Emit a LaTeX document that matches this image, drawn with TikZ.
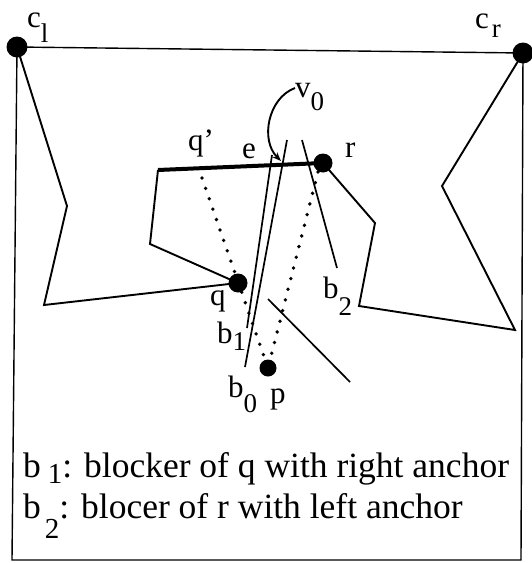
\documentclass[tikz,border=0pt]{standalone}
\usepackage{fontspec}
\setmainfont{Liberation Serif}
\usetikzlibrary{arrows.meta}

\def\subsize{27}
\newcommand{\lsub}[2][12pt]{\raisebox{-#1}{\fontsize{\subsize}{\subsize}\selectfont #2}}

\begin{document}
\begin{tikzpicture}[x=1pt, y=-1pt,
    vtx/.style={circle, fill=black, inner sep=0pt, minimum size=19pt},
    lab/.style={anchor=base west, inner sep=0pt, font=\fontsize{31}{31}\selectfont},
    legend/.style={anchor=base west, inner sep=0pt, font=\fontsize{35.5}{36}\selectfont\def\subsize{29}},
    frame/.style={line width=1.4pt},
    edge/.style={line width=1.9pt, line join=miter},
    sight/.style={line width=3.8pt, line cap=round, dash pattern=on 0pt off 11pt},
    arrow/.style={-{Stealth[length=9pt, width=7pt]}, line width=1.9pt}
  ]
  \useasboundingbox (0,0) rectangle (531,563);

  % corners and vertices
  \node[vtx, minimum size=21pt] (cl) at (17,47) {};
  \node[vtx, minimum size=21pt] (cr) at (523,53) {};
  \node[vtx] (q) at (238,283) {};
  \node[vtx] (r) at (323,163) {};
  \node[vtx, minimum size=17pt] (p) at (268,368) {};

  \coordinate (bl) at (12,560);
  \coordinate (br) at (521,560);
  \coordinate (lA) at (67,206);
  \coordinate (lB) at (44,305);
  \coordinate (lC) at (150,244);
  \coordinate (qp) at (158,170);
  \coordinate (rA) at (375,223);
  \coordinate (rB) at (359,306);
  \coordinate (rC) at (515,330);
  \coordinate (rD) at (442,186);

  % outer frame
  \draw[frame] (cl.center) -- (cr.center) -- (br) -- (bl) -- (cl.center);

  % pockets
  \draw[edge] (cl.center) -- (lA) -- (lB) -- (q.center) -- (lC) -- (qp);
  \draw[line width=4pt] (qp) -- (r.center);
  \draw[edge] (r.center) -- (rA) -- (rB) -- (rC) -- (rD) -- (cr.center);

  % blockers
  \draw[line width=1.7pt] (272,155) -- (247,328);
  \draw[line width=1.7pt] (287,140) -- (245,367);
  \draw[line width=1.7pt] (302,140) -- (337,268);
  \draw[line width=1.7pt] (268,299) -- (350,382);

  % lines of sight
  \coordinate (sq) at (202,178);
  \coordinate (sr) at (318,172);
  \draw[sight] (sq) -- (p.center);
  \draw[sight] (sr) -- (p.center);

  % labels
  \node[lab] (cllab) at (27,27) {c\lsub[15pt]{l}};
  \node[lab] (crlab) at (475,28) {c\hspace{3pt}\lsub[9pt]{r}};
  \node[lab] (v0lab) at (295,97) {v\lsub[13pt]{0}};
  \node[lab] (qplab) at (188,150) {q’};
  \node[lab] (elab) at (242,158) {e};
  \node[lab] (rlab) at (345,157) {r};
  \node[lab] (qlab) at (210,305) {q};
  \node[lab] (b1lab) at (217,343) {b\lsub[7pt]{1}};
  \node[lab] (b2lab) at (323,298) {b\lsub[17pt]{2}};
  \node[lab] (b0lab) at (228,397) {b\lsub[15pt]{0}};
  \node[lab] (plab) at (270,403) {p};

  \coordinate (v0) at (295,88);
  \draw[arrow] (v0) .. controls (268,98) and (260,140) .. (281,161);

  % legend
  \node[legend] (legone) at (23,477) {b\hspace{7pt}\lsub[6pt]{1}: blocker of q with right anchor};
  \node[legend] (legtwo) at (23,518) {b\hspace{4pt}\lsub[20pt]{2}: blocer of r with left anchor};
\end{tikzpicture}
\end{document}
